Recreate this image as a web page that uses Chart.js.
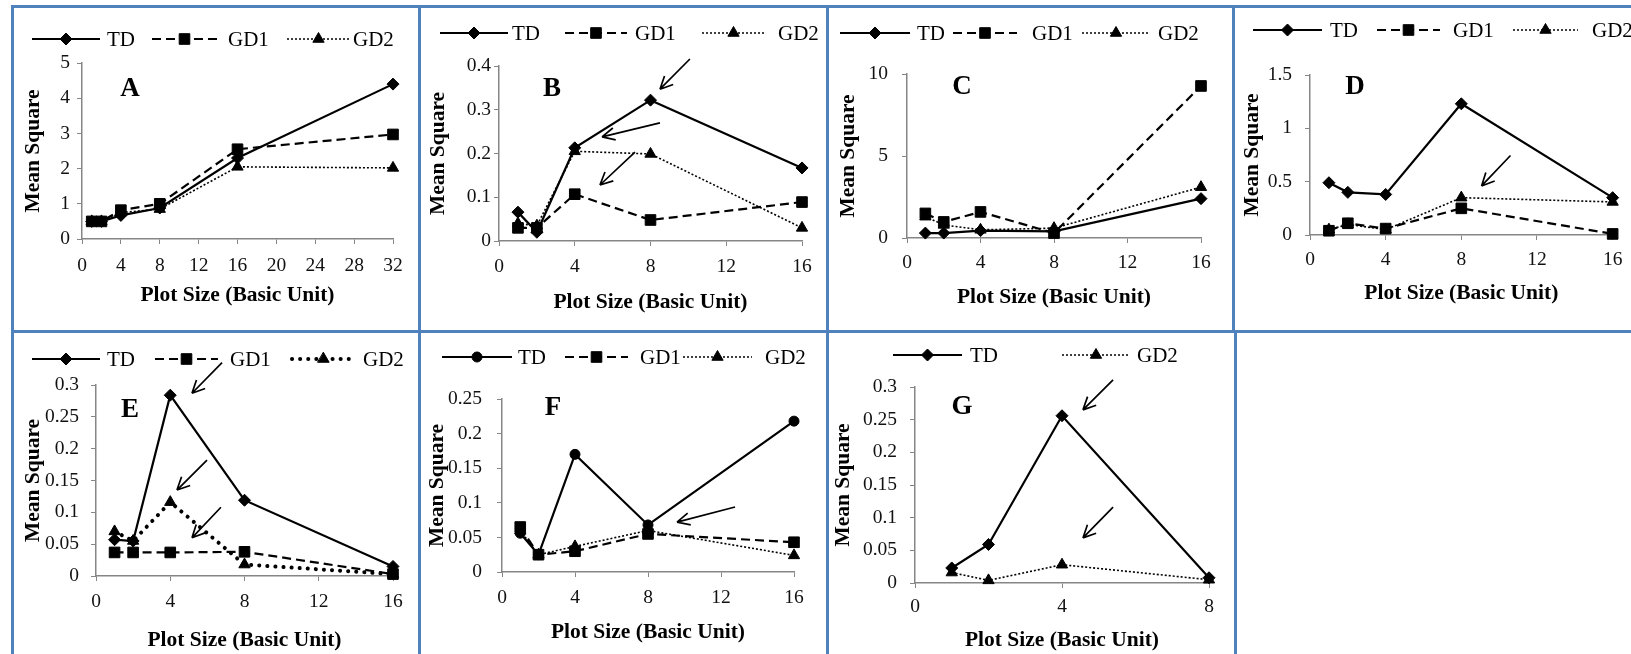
<!DOCTYPE html>
<html>
<head>
<meta charset="utf-8">
<title>Mean square against plot size</title>
<script src="https://cdn.jsdelivr.net/npm/chart.js@4.4.1/dist/chart.umd.min.js"></script>
<style>
  html, body { margin: 0; padding: 0; background: #fff; }
  body { position: relative; width: 1631px; height: 654px; overflow: hidden; }
  canvas { position: absolute; }
  .rule { position: absolute; background: #4f81bd; }
</style>
</head>
<body>
<script>
// plot sizes (basic units) on the x axis
const sizesA = [1, 2, 4, 8, 16, 32];
const sizes  = [1, 2, 4, 8, 16];
const sizesG = [1, 2, 4, 8];

// mean squares
const tdA  = [0.5, 0.5, 0.67, 0.88, 2.3, 4.4];
const gd1A = [0.5, 0.5, 0.82, 1.0, 2.55, 2.97];
const gd2A = [0.5, 0.5, 0.75, 0.85, 2.05, 2.02];

const tdB  = [0.066, 0.02, 0.213, 0.322, 0.167];
const gd1B = [0.03, 0.03, 0.107, 0.048, 0.089];
const gd2B = [0.04, 0.035, 0.205, 0.199, 0.03];

const tdC  = [0.3, 0.3, 0.45, 0.4, 2.4];
const gd1C = [1.5, 0.98, 1.59, 0.3, 9.27];
const gd2C = [1.3, 0.8, 0.5, 0.6, 3.1];

const tdD  = [0.49, 0.4, 0.38, 1.23, 0.35];
const gd1D = [0.04, 0.11, 0.06, 0.25, 0.01];
const gd2D = [0.05, 0.1, 0.05, 0.35, 0.31];

const tdE  = [0.057, 0.055, 0.284, 0.119, 0.015];
const gd1E = [0.037, 0.037, 0.037, 0.038, 0.003];
const gd2E = [0.07, 0.055, 0.116, 0.018, 0.003];

const tdF  = [0.056, 0.025, 0.17, 0.068, 0.218];
const gd1F = [0.065, 0.025, 0.03, 0.055, 0.043];
const gd2F = [0.06, 0.025, 0.037, 0.06, 0.024];

const tdG  = [0.023, 0.059, 0.256, 0.008];
const gd2G = [0.016, 0.004, 0.028, 0.005];

// arrows, in data units: [fromX, fromY, tipX, tipY]
const arrowsB = [[10.08, 0.416, 8.5, 0.347], [8.5, 0.27, 5.44, 0.238], [7.18, 0.203, 5.33, 0.128]];
const arrowsD = [[10.6, 0.745, 9.07, 0.46]];
const arrowsE = [[6.79, 0.335, 5.17, 0.287], [5.98, 0.182, 4.36, 0.135], [6.73, 0.108, 5.17, 0.06]];
const arrowsF = [[12.77, 0.094, 9.59, 0.072]];
const arrowsG = [[5.39, 0.311, 4.57, 0.265], [5.39, 0.116, 4.57, 0.069]];

// line / marker styles
const TD   = { label: 'TD',  point: 'rectRot',  radius: 6,   dash: [],      width: 2.2 };
const TDc  = { label: 'TD',  point: 'circle',   radius: 5,   dash: [],      width: 2.2 };
const GD1  = { label: 'GD1', point: 'rect',     radius: 7.5, dash: [9, 5],  width: 2.2 };
const GD2  = { label: 'GD2', point: 'triangle', radius: 6.5, dash: [2, 2],  width: 1.6 };
const GD2e = { label: 'GD2', point: 'triangle', radius: 6.5, dash: [0.1, 8], width: 4, cap: 'round' };

Chart.defaults.font.family = '"Liberation Serif", "Times New Roman", serif';
Chart.defaults.color = '#111';

const AXIS = '#868686';
const TICK_SIZE = 19.5;
const TITLE_SIZE = 21.5;

// frame lines [left, top, width, height]
const rules = [
  [11, 5, 1620, 3], [11, 330, 1620, 3], [11, 5, 3, 649],
  [418, 5, 3, 649], [826, 5, 3, 649],
  [1232, 5, 3, 327], [1234, 330, 3, 324]
];
rules.forEach(r => {
  const d = document.createElement('div');
  d.className = 'rule';
  d.style.left = r[0] + 'px'; d.style.top = r[1] + 'px';
  d.style.width = r[2] + 'px'; d.style.height = r[3] + 'px';
  document.body.appendChild(d);
});

const panels = [
  { id: 'A', cell: [14, 8, 404, 322], plot: [82, 63, 393, 239], x: sizesA, xMax: 32,
    yMax: 5, yStep: 1, series: [[TD, tdA], [GD1, gd1A], [GD2, gd2A]],
    legendY: 39, legend: [[32, 100, 107], [152, 217, 228], [287, 350, 353]],
    letter: [48, 26], yTitleX: 33, xTitleY: 295, yPad: 7, xPad: 10.6, arrows: [] },
  { id: 'B', cell: [421, 8, 405, 322], plot: [499, 66, 802, 241], x: sizes, xMax: 16,
    yMax: 0.4, yStep: 0.1, series: [[TD, tdB], [GD1, gd1B], [GD2, gd2B]],
    legendY: 33, legend: [[440, 508, 512], [565, 627, 635], [702, 765, 778]],
    letter: [53, 23], yTitleX: 438, xTitleY: 302, yPad: 3, xPad: 9.6, arrows: arrowsB },
  { id: 'C', cell: [829, 8, 403, 322], plot: [907, 74, 1201, 238], x: sizes, xMax: 16,
    yMax: 10, yStep: 5, series: [[TD, tdC], [GD1, gd1C], [GD2, gd2C]],
    legendY: 33, legend: [[840, 910, 917], [953, 1017, 1032], [1082, 1150, 1158]],
    letter: [55, 13], yTitleX: 848, xTitleY: 297, yPad: 14, xPad: 8.6, arrows: [] },
  { id: 'D', cell: [1235, 8, 396, 322], plot: [1310, 75, 1615, 235], x: sizes, xMax: 16,
    yMax: 1.5, yStep: 0.5, series: [[TD, tdD], [GD1, gd1D], [GD2, gd2D]],
    legendY: 30, legend: [[1253, 1322, 1330], [1377, 1440, 1453], [1513, 1578, 1592]],
    letter: [45, 12], yTitleX: 1252, xTitleY: 293, yPad: 13, xPad: 8.6, arrows: arrowsD },
  { id: 'E', cell: [14, 333, 404, 321], plot: [96, 385, 393, 576], x: sizes, xMax: 16,
    yMax: 0.3, yStep: 0.05, series: [[TD, tdE], [GD1, gd1E], [GD2e, gd2E]],
    legendY: 359, legend: [[32, 100, 107], [155, 218, 230], [292, 355, 363]],
    letter: [34, 25], yTitleX: 33, xTitleY: 640, yPad: 12, xPad: 9.6, arrows: arrowsE },
  { id: 'F', cell: [421, 333, 405, 321], plot: [502, 399, 794, 572], x: sizes, xMax: 16,
    yMax: 0.25, yStep: 0.05, series: [[TDc, tdF], [GD1, gd1F], [GD2, gd2F]],
    legendY: 357, legend: [[442, 512, 518], [565, 628, 640], [683, 752, 765]],
    letter: [51, 9], yTitleX: 437, xTitleY: 632, yPad: 15, xPad: 9.6, arrows: arrowsF },
  { id: 'G', cell: [829, 333, 405, 321], plot: [915, 387, 1209, 583], x: sizesG, xMax: 8,
    yMax: 0.3, yStep: 0.05, series: [[TD, tdG], [GD2, gd2G]],
    legendY: 355, legend: [[893, 962, 970], [1062, 1130, 1137]],
    letter: [47, 20], yTitleX: 843, xTitleY: 640, yPad: 13, xPad: 7.6, arrows: arrowsG }
];

function makePanel(p) {
  const [cx, cy, cw, ch] = p.cell;
  const [pl, pt, pr, pb] = p.plot;
  const canvas = document.createElement('canvas');
  canvas.width = cw; canvas.height = ch;
  canvas.style.left = cx + 'px'; canvas.style.top = cy + 'px';
  document.body.appendChild(canvas);

  const half = TITLE_SIZE * 1.2 / 2;
  const yAxisW = pl - cx;
  const xAxisH = p.xTitleY - pb + half;

  const extras = {
    id: 'extras',
    afterDatasetsDraw(chart) {
      const ctx = chart.ctx, xs = chart.scales.x, ys = chart.scales.y;
      ctx.save();
      ctx.strokeStyle = '#000';
      ctx.fillStyle = '#000';

      // arrows
      ctx.lineWidth = 1.7;
      ctx.setLineDash([]);
      p.arrows.forEach(([x0, y0, x1, y1]) => {
        const ax = xs.getPixelForValue(x0), ay = ys.getPixelForValue(y0);
        const bx = xs.getPixelForValue(x1), by = ys.getPixelForValue(y1);
        const ang = Math.atan2(by - ay, bx - ax);
        ctx.beginPath();
        ctx.moveTo(ax, ay); ctx.lineTo(bx, by);
        [-0.45, 0.45].forEach(d => {
          ctx.moveTo(bx, by);
          ctx.lineTo(bx - 14 * Math.cos(ang + d), by - 14 * Math.sin(ang + d));
        });
        ctx.stroke();
      });

      // panel letter
      ctx.font = 'bold 27px "Liberation Serif"';
      ctx.textAlign = 'center';
      ctx.textBaseline = 'middle';
      ctx.fillText(p.id, chart.chartArea.left + p.letter[0], chart.chartArea.top + p.letter[1]);

      // legend
      const ly = p.legendY - cy;
      p.series.forEach(([st], i) => {
        const [x1, x2, tx] = p.legend[i];
        ctx.beginPath();
        ctx.lineWidth = st.width;
        ctx.lineCap = st.cap || 'butt';
        ctx.setLineDash(st.dash);
        ctx.moveTo(x1 - cx, ly); ctx.lineTo(x2 - cx, ly);
        ctx.stroke();
        ctx.setLineDash([]);
        ctx.lineWidth = 1;
        Chart.helpers.drawPoint(ctx, { pointStyle: st.point, radius: st.radius, borderWidth: 1, rotation: 0 },
          (x1 + x2) / 2 - cx, ly);
        ctx.font = '21px "Liberation Serif"';
        ctx.textAlign = 'left';
        ctx.fillText(st.label, tx - cx, ly + 1);
      });
      ctx.restore();
    }
  };

  new Chart(canvas, {
    type: 'line',
    data: {
      datasets: p.series.map(([st, vals]) => ({
        label: st.label,
        data: p.x.map((x, j) => ({ x: x, y: vals[j] })),
        borderColor: '#000',
        backgroundColor: '#000',
        borderWidth: st.width,
        borderDash: st.dash,
        borderCapStyle: st.cap || 'butt',
        pointStyle: st.point,
        pointRadius: st.radius,
        pointBorderWidth: 1,
        pointBackgroundColor: '#000',
        pointBorderColor: '#000',
        tension: 0,
        fill: false,
        clip: false
      }))
    },
    options: {
      responsive: false,
      animation: false,
      events: [],
      layout: {
        autoPadding: false,
        padding: { left: 0, top: pt - cy, right: cx + cw - pr, bottom: cy + ch - pb - xAxisH }
      },
      plugins: { legend: { display: false }, tooltip: { enabled: false } },
      scales: {
        x: {
          type: 'linear', min: 0, max: p.xMax,
          afterFit: s => { s.height = xAxisH; },
          ticks: { stepSize: 4, maxRotation: 0, autoSkip: false, padding: p.xPad,
                   font: { size: TICK_SIZE }, color: '#111' },
          grid: { drawOnChartArea: false, drawTicks: true, tickLength: 5, color: AXIS },
          border: { color: AXIS, width: 1.5 },
          title: { display: true, text: 'Plot Size (Basic Unit)', color: '#000',
                   font: { size: TITLE_SIZE, weight: 'bold' }, padding: { top: 0, bottom: 0 } }
        },
        y: {
          min: 0, max: p.yMax,
          afterFit: s => { s.width = yAxisW; },
          ticks: { stepSize: p.yStep, padding: p.yPad, font: { size: TICK_SIZE }, color: '#111',
                   callback: v => String(Math.round(v * 1000) / 1000) },
          grid: { drawOnChartArea: false, drawTicks: true, tickLength: 5, color: AXIS },
          border: { color: AXIS, width: 1.5 },
          title: { display: true, text: 'Mean Square', color: '#000',
                   font: { size: TITLE_SIZE, weight: 'bold' },
                   padding: { top: p.yTitleX - cx - half, bottom: 0 } }
        }
      }
    },
    plugins: [extras]
  });
}

panels.forEach(makePanel);
</script>
</body>
</html>
